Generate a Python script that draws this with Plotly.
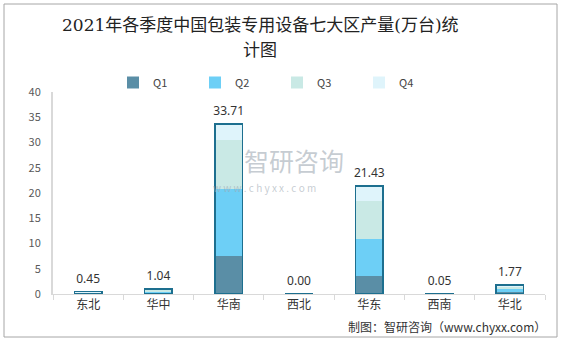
import plotly.graph_objects as go

regions = ["东北", "华中", "华南", "西北", "华东", "西南", "华北"]
q1 = [0.10, 0.25, 7.60, 0.00, 3.60, 0.01, 0.30]
q2 = [0.15, 0.30, 13.20, 0.00, 7.30, 0.02, 0.60]
q3 = [0.10, 0.25, 9.70, 0.00, 7.50, 0.01, 0.50]
q4 = [0.10, 0.24, 3.21, 0.00, 3.03, 0.01, 0.37]
totals = [0.45, 1.04, 33.71, 0.00, 21.43, 0.05, 1.77]
series_names = ["Q1", "Q2", "Q3", "Q4"]
colors = ["#5a8ea6", "#6dcff6", "#c9e9e5", "#dff4fb"]

fig = go.Figure()
for name, vals, c in zip(series_names, [q1, q2, q3, q4], colors):
    fig.add_trace(go.Bar(x=regions, y=vals, name=name, marker=dict(color=c, line=dict(width=0)),
                         xaxis="x", yaxis="y"))

# outline of the whole stack
fig.add_trace(go.Bar(x=regions, y=totals, showlegend=False,
                     marker=dict(color="rgba(0,0,0,0)", line=dict(color="#1d6f8f", width=1.5)),
                     xaxis="x2", yaxis="y", hoverinfo="skip"))

# total labels
fig.add_trace(go.Scatter(x=regions, y=totals, mode="markers+text", showlegend=False,
                         marker=dict(size=8, opacity=0),
                         text=[f"{v:.2f}" for v in totals], textposition="top center",
                         textfont=dict(size=12, color="#333333", family="Noto Sans, sans-serif"),
                         cliponaxis=False, hoverinfo="skip", xaxis="x", yaxis="y"))

L, R, T, B = 53, 17, 92, 46
pw, ph = 562 - L - R, 340 - T - B

def px(x):
    return (x - L) / pw

def py(y):
    return (294 - y) / ph

fig.update_layout(
    width=562, height=340,
    margin=dict(l=L, r=R, t=T, b=B),
    paper_bgcolor="white", plot_bgcolor="white",
    barmode="stack", bargap=0.61,
    font=dict(family="Noto Sans CJK SC, sans-serif", color="#333333"),
    legend=dict(orientation="h", x=px(113), xanchor="left", y=py(68), yanchor="top",
                font=dict(size=11, color="#444444"), entrywidth=37, entrywidthmode="pixels",
                itemwidth=30, traceorder="normal"),
    xaxis=dict(showline=True, linecolor="#d9d9d9", linewidth=1, ticks="outside", tickcolor="#d9d9d9",
               ticklen=5, tickson="boundaries", tickfont=dict(size=12, color="#333333"),
               showgrid=False, fixedrange=True),
    xaxis2=dict(overlaying="x", matches="x", visible=False),
    yaxis=dict(range=[0, 40], dtick=5, showline=True, linecolor="#d9d9d9", linewidth=2, showgrid=False,
               zeroline=False, tickfont=dict(size=11, color="#595959"), ticks="", ticklabelstandoff=8),
)

# title (two lines)
title_font = dict(size=17, family="DejaVu Serif, Noto Sans CJK SC, serif", color="#222222")
fig.add_annotation(text="2021年各季度中国包装专用设备七大区产量(万台)统", xref="paper", yref="paper",
                   x=px(260), y=py(25), xanchor="center", yanchor="middle", showarrow=False,
                   font=title_font)
fig.add_annotation(text="计图", xref="paper", yref="paper",
                   x=px(260), y=py(50), xanchor="center", yanchor="middle", showarrow=False,
                   font=title_font)

# watermark
wm_color = "rgba(160,170,180,0.6)"
fig.add_annotation(text="智研咨询", xref="paper", yref="paper", x=px(242), y=py(160),
                   xanchor="left", yanchor="middle", showarrow=False,
                   font=dict(size=25, color=wm_color))
fig.add_annotation(text="w w w . c h y x x . c o m", xref="paper", yref="paper", x=px(211), y=py(187),
                   xanchor="left", yanchor="middle", showarrow=False,
                   font=dict(size=10, color=wm_color))

# source
fig.add_annotation(text="制图：智研咨询（www.chyxx.com）", xref="paper", yref="paper",
                   x=px(548), y=py(326), xanchor="right", yanchor="middle",
                   showarrow=False, font=dict(size=12, color="#333333"))

# outer border
fig.add_shape(type="rect", xref="paper", yref="paper",
              x0=px(4), x1=px(557), y0=py(337), y1=py(4),
              line=dict(color="#a6a6a6", width=1), fillcolor="rgba(0,0,0,0)", layer="below")

fig.write_html("out.html")
